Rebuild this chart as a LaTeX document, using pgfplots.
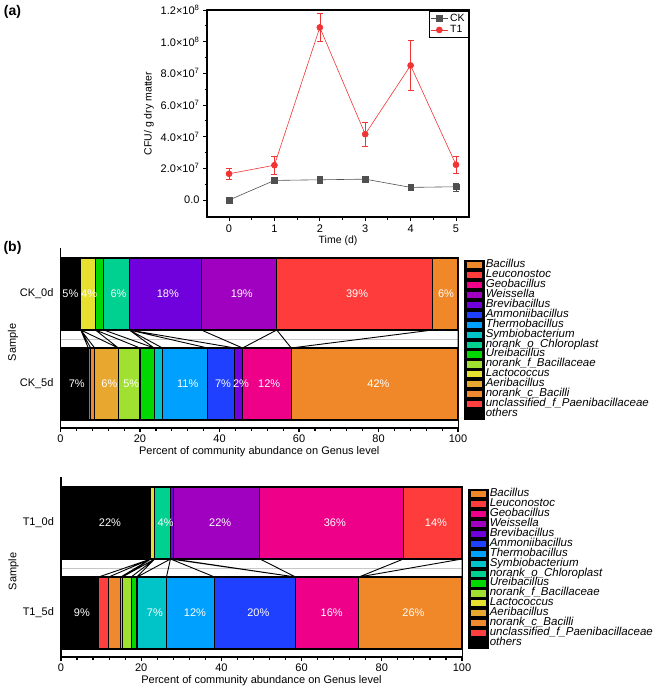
\documentclass[border=0pt]{standalone}
\usepackage{fontspec}
\setmainfont{Liberation Sans}
\usepackage{pgfplots}
\usepackage{pgfplotstable}
\pgfplotsset{compat=1.18}

\definecolor{cBac}{HTML}{F0882A}
\definecolor{cLeu}{HTML}{FF3C3C}
\definecolor{cGeo}{HTML}{EE0088}
\definecolor{cWei}{HTML}{A000C0}
\definecolor{cBre}{HTML}{7000DC}
\definecolor{cAmm}{HTML}{2040FF}
\definecolor{cThe}{HTML}{00A0FF}
\definecolor{cSym}{HTML}{00C4C8}
\definecolor{cChl}{HTML}{00D090}
\definecolor{cUre}{HTML}{00D800}
\definecolor{cNfB}{HTML}{A0E030}
\definecolor{cLac}{HTML}{E8E030}
\definecolor{cAer}{HTML}{E8A830}
\definecolor{cNcB}{HTML}{F08830}
\definecolor{cUnc}{HTML}{FF4040}
\definecolor{ckgray}{HTML}{505050}
\definecolor{t1red}{HTML}{F03434}

% genus abundance (%), row pos=1 is day 0, pos=0 is day 5
\pgfplotstableread{
pos oth  unc ncb aer  lac nfb  ure  chl sym thm   amm  bre  wei  geo   leu  bac
1   5.1  0   0   0    3.7 0    2.1  6.4 0   0     0    18.1 19.0 0     39.2 6.4
0   7.0  0.6 1.0 5.95 0   5.45 3.55 0   2.1 11.35 6.85 1.95 0    12.25 0    41.95
}\ckdata
\pgfplotstableread{
pos oth  unc ncb aer lac nfb ure chl sym thm  amm  bre wei  geo  leu  bac
1   22.4 0   0   0   1.0 0   0   3.9 0   0    0    0.7 21.6 35.8 14.6 0
0   9.4  2.5 3.0 0.4 0   2.2 1.4 0.1 7.3 12.0 20.2 0   0    15.8 0    25.7
}\tdata

\newcommand{\genusbars}[1]{%
  \addplot[fill=black] table[x=oth, y=pos] {#1};
  \addplot[fill=cUnc] table[x=unc, y=pos] {#1};
  \addplot[fill=cNcB] table[x=ncb, y=pos] {#1};
  \addplot[fill=cAer] table[x=aer, y=pos] {#1};
  \addplot[fill=cLac] table[x=lac, y=pos] {#1};
  \addplot[fill=cNfB] table[x=nfb, y=pos] {#1};
  \addplot[fill=cUre] table[x=ure, y=pos] {#1};
  \addplot[fill=cChl] table[x=chl, y=pos] {#1};
  \addplot[fill=cSym] table[x=sym, y=pos] {#1};
  \addplot[fill=cThe] table[x=thm, y=pos] {#1};
  \addplot[fill=cAmm] table[x=amm, y=pos] {#1};
  \addplot[fill=cBre] table[x=bre, y=pos] {#1};
  \addplot[fill=cWei] table[x=wei, y=pos] {#1};
  \addplot[fill=cGeo] table[x=geo, y=pos] {#1};
  \addplot[fill=cLeu] table[x=leu, y=pos] {#1};
  \addplot[fill=cBac] table[x=bac, y=pos] {#1};
  \legend{others, unclassified\_f\_Paenibacillaceae, norank\_c\_Bacilli,
    Aeribacillus, Lactococcus, norank\_f\_Bacillaceae, Ureibacillus,
    norank\_o\_Chloroplast, Symbiobacterium, Thermobacillus, Ammoniibacillus,
    Brevibacillus, Weissella, Geobacillus, Leuconostoc, Bacillus}
}

\pgfplotsset{
  /pgf/number format/assume math mode=true,
  genusaxis/.style={
    anchor=south west, scale only axis, height=171pt,
    xmin=0, xmax=100, ymin=-0.489, ymax=1.411,
    xbar stacked, bar width=0.8,
    every axis plot/.append style={draw=black, line width=1.1pt},
    axis line style={line width=0.6pt},
    xtick={0,20,...,100}, minor x tick num=4, xtick pos=left,
    tick align=outside, major tick length=3.5pt, minor tick length=3pt,
    tick style={black, line width=1.2pt},
    ytick={0,1}, ytick style={draw=none},
    extra y ticks={0.5}, extra y tick labels={},
    extra y tick style={grid=major},
    major grid style={black!22, line width=0.9pt},
    ticklabel style={font=\fontsize{11}{13}\selectfont},
    label style={font=\fontsize{11}{13}\selectfont},
    xlabel={Percent of community abundance on Genus level},
    xlabel style={yshift=3pt},
    ylabel={Sample},
    ylabel style={at={(rel axis cs:0,0.5)}, anchor=center, yshift=47.5pt},
    reverse legend,
    legend cell align=left,
    legend style={at={(rel axis cs:1,1)}, anchor=north west, xshift=7pt, yshift=-3pt,
      draw=none, fill=none, inner sep=0pt, row sep=0pt, column sep=0pt,
      font=\fontsize{11.5}{11.5}\selectfont\itshape,
      nodes={inner sep=0pt, inner xsep=2pt, text height=7.4pt, text depth=2.53pt}},
    legend image code/.code={%
      \path (0pt,-3pt) rectangle (17.5pt,3pt);
      \pgfinterruptboundingbox
      \fill[black] (-1pt,-5.1pt) rectangle (18.5pt,5.1pt);
      \fill[##1] (1pt,-3.6pt) rectangle (17pt,3.6pt);
      \endpgfinterruptboundingbox},
  },
  overaxis/.style={
    anchor=south west, scale only axis, height=171pt,
    xmin=0, xmax=100, ymin=-0.489, ymax=1.411,
    hide axis, clip=false,
  },
  pctlabels/.style={draw=none, mark=none, nodes near coords,
    point meta=explicit symbolic, nodes near coords align=center,
    every node near coord/.append style={text=white, inner sep=0pt,
      font=\fontsize{11}{13}\selectfont}},
}

\begin{document}
\begin{tikzpicture}
\useasboundingbox (0pt,0pt) rectangle (656pt,-688pt);

\node[font=\bfseries\fontsize{14}{16}\selectfont] at (12.5pt,-11.5pt) {(a)};
\node[font=\bfseries\fontsize{14}{16}\selectfont] at (12.5pt,-248pt) {(b)};

% ---------- (a) CFU counts ----------
\begin{axis}[at={(207pt,-217pt)}, anchor=south west, scale only axis,
  width=262pt, height=207pt,
  xmin=-0.485, xmax=5.286, ymin=-1.07e7, ymax=1.2e8,
  xtick={0,1,2,3,4,5}, minor x tick num=1,
  ytick={0,2e7,4e7,6e7,8e7,1e8,1.2e8}, minor y tick num=1,
  yticklabels={0.0, {2.0×10\textsuperscript{7}}, {4.0×10\textsuperscript{7}},
    {6.0×10\textsuperscript{7}}, {8.0×10\textsuperscript{7}},
    {1.0×10\textsuperscript{8}}, {1.2×10\textsuperscript{8}}},
  scaled y ticks=false,
  tick align=outside, xtick pos=left, ytick pos=left,
  major tick length=4pt, minor tick length=2.5pt,
  tick style={black, line width=1pt},
  axis line style={line width=1.3pt},
  ticklabel style={font=\fontsize{11}{13}\selectfont},
  label style={font=\fontsize{10.5}{12}\selectfont},
  xlabel={Time (d)}, ylabel={CFU/ g dry matter},
  xlabel style={yshift=3pt},
  legend cell align=left,
  legend style={at={(rel axis cs:1,1)}, anchor=north east, xshift=-1pt, yshift=-1pt,
    font=\fontsize{10.5}{11}\selectfont, draw=black, line width=0.5pt,
    inner xsep=1pt, inner ysep=0.5pt, row sep=-1pt},
]
\addplot[color=ckgray, line width=0.6pt, mark=square*, mark size=2.8pt,
  error bars/.cd, y dir=both, y explicit,
  error bar style={line width=0.6pt}, error mark options={rotate=90, mark size=3pt}]
  coordinates {(0,0) +- (0,0.05e7) (1,1.24e7) +- (0,0.1e7) (2,1.28e7) +- (0,0.2e7)
    (3,1.32e7) +- (0,0.1e7) (4,0.8e7) +- (0,0.08e7) (5,0.84e7) +- (0,0.25e7)};
\addplot[color=t1red, line width=0.6pt, mark=*, mark size=3pt,
  error bars/.cd, y dir=both, y explicit,
  error bar style={line width=0.6pt}, error mark options={rotate=90, mark size=3pt}]
  coordinates {(0,1.66e7) +- (0,0.35e7) (1,2.2e7) +- (0,0.55e7) (2,1.09e8) +- (0,0.89e7)
    (3,4.16e7) +- (0,0.75e7) (4,8.5e7) +- (0,1.58e7) (5,2.23e7) +- (0,0.53e7)};
\legend{CK, T1}
\end{axis}

% ---------- (b) CK ----------
\begin{axis}[genusaxis, at={(60.5pt,-428pt)}, width=397.5pt,
  yticklabels={CK\_5d, CK\_0d}]
\genusbars{\ckdata}
\end{axis}
\begin{axis}[overaxis, at={(60.5pt,-428pt)}, width=397.5pt]
\addplot[black, line width=0.9pt, unbounded coords=jump] coordinates {
  (5.1,0.6) (7.0,0.4) (nan,nan) (5.1,0.6) (7.6,0.4) (nan,nan)
  (5.1,0.6) (8.6,0.4) (nan,nan) (5.1,0.6) (14.55,0.4) (nan,nan)
  (8.8,0.6) (14.55,0.4) (nan,nan) (8.8,0.6) (20.0,0.4) (nan,nan)
  (10.9,0.6) (23.55,0.4) (nan,nan) (17.3,0.6) (23.55,0.4) (nan,nan)
  (17.3,0.6) (25.65,0.4) (nan,nan) (17.3,0.6) (37.0,0.4) (nan,nan)
  (17.3,0.6) (43.85,0.4) (nan,nan) (35.4,0.6) (45.8,0.4) (nan,nan)
  (54.4,0.6) (45.8,0.4) (nan,nan) (54.4,0.6) (58.05,0.4) (nan,nan)
  (93.6,0.6) (58.05,0.4) (nan,nan) (100,0.6) (100,0.4)};
\addplot[pctlabels] coordinates {
  (2.5,1) [5\%] (7.2,1) [4\%] (14.6,1) [6\%] (27,1) [18\%] (45.6,1) [19\%]
  (74.6,1) [39\%] (97,1) [6\%]
  (4.1,0) [7\%] (12.3,0) [6\%] (17.8,0) [5\%] (32,0) [11\%] (40.9,0) [7\%]
  (45.4,0) [2\%] (52.5,0) [12\%] (80,0) [42\%]};
\draw[line width=1.6pt] (rel axis cs:0,1.05) -- (rel axis cs:0,0) -- (rel axis cs:1,0);
\end{axis}

% ---------- (b) T1 ----------
\begin{axis}[genusaxis, at={(61pt,-657pt)}, width=401pt,
  yticklabels={T1\_5d, T1\_0d}]
\genusbars{\tdata}
\end{axis}
\begin{axis}[overaxis, at={(61pt,-657pt)}, width=401pt]
\addplot[black, line width=0.9pt, unbounded coords=jump] coordinates {
  (22.4,0.6) (9.4,0.4) (nan,nan) (22.4,0.6) (11.9,0.4) (nan,nan)
  (22.4,0.6) (14.9,0.4) (nan,nan) (22.4,0.6) (15.3,0.4) (nan,nan)
  (23.4,0.6) (15.3,0.4) (nan,nan) (23.4,0.6) (17.5,0.4) (nan,nan)
  (23.4,0.6) (18.9,0.4) (nan,nan) (27.3,0.6) (19.0,0.4) (nan,nan)
  (27.3,0.6) (26.3,0.4) (nan,nan) (27.3,0.6) (38.3,0.4) (nan,nan)
  (27.3,0.6) (58.5,0.4) (nan,nan) (28.0,0.6) (58.5,0.4) (nan,nan)
  (49.6,0.6) (58.5,0.4) (nan,nan) (85.4,0.6) (74.3,0.4) (nan,nan)
  (100,0.6) (74.3,0.4) (nan,nan) (100,0.6) (100,0.4)};
\addplot[pctlabels] coordinates {
  (12.2,1) [22\%] (26.1,1) [4\%] (39.7,1) [22\%] (68.3,1) [36\%] (93.5,1) [14\%]
  (5.2,0) [9\%] (23.4,0) [7\%] (33.4,0) [12\%] (49.2,0) [20\%] (67.5,0) [16\%]
  (87.9,0) [26\%]};
\draw[line width=1.6pt] (rel axis cs:0,1.05) -- (rel axis cs:0,0) -- (rel axis cs:1,0);
\end{axis}
\end{tikzpicture}
\end{document}
